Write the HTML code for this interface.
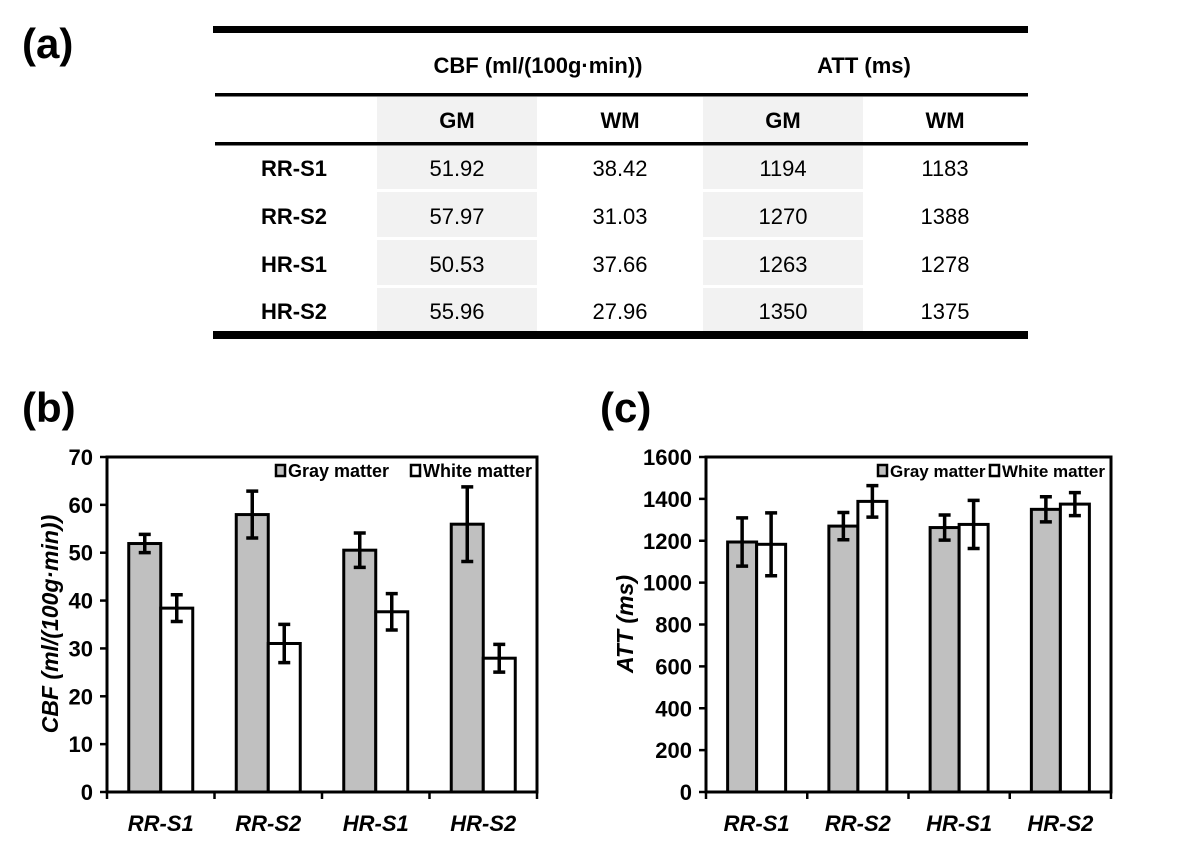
<!DOCTYPE html>
<html><head><meta charset="utf-8"><style>
body{margin:0;background:#fff;font-family:"Liberation Sans",Arial,sans-serif}
svg{display:block}
</style></head><body>
<svg id="root" width="1197" height="858" viewBox="0 0 1197 858" font-family="Liberation Sans, Arial, sans-serif">
<g>
<text x="22" y="58" font-size="42" font-weight="bold">(a)</text>
<rect x="213" y="26" width="815" height="7" fill="#000"/>
<g fill="#f2f2f2">
<rect x="377" y="97" width="160" height="45"/><rect x="703" y="97" width="160" height="45"/>
<rect x="377" y="146" width="160" height="43"/><rect x="703" y="146" width="160" height="43"/>
<rect x="377" y="192" width="160" height="45"/><rect x="703" y="192" width="160" height="45"/>
<rect x="377" y="240" width="160" height="45"/><rect x="703" y="240" width="160" height="45"/>
<rect x="377" y="288" width="160" height="43"/><rect x="703" y="288" width="160" height="43"/>
</g>
<rect x="215" y="93" width="813" height="3.5" fill="#000"/>
<rect x="215" y="142" width="813" height="3.5" fill="#000"/>
<rect x="213" y="331" width="815" height="8" fill="#000"/>
<g font-weight="bold" font-size="22" text-anchor="middle">
<text x="538" y="73">CBF (ml/(100g·min))</text>
<text x="864" y="73">ATT (ms)</text>
<text x="457" y="128">GM</text>
<text x="620" y="128">WM</text>
<text x="783" y="128">GM</text>
<text x="945" y="128">WM</text>
</g>
<g id="tbody"></g>
</g>
<text x="22" y="422" font-size="42" font-weight="bold">(b)</text>
<text x="600" y="422" font-size="42" font-weight="bold">(c)</text>
<g id="chartB"></g>
<g id="chartC"></g>
</svg>
<script>
const categories = ["RR-S1","RR-S2","HR-S1","HR-S2"];
const cbfGray = [51.92,57.97,50.53,55.96];
const cbfWhite = [38.42,31.03,37.66,27.96];
const cbfGrayErr = [1.9,4.9,3.6,7.8];
const cbfWhiteErr = [2.8,4.0,3.8,2.9];
const attGray = [1194,1270,1263,1350];
const attWhite = [1183,1388,1278,1375];
const attGrayErr = [115,65,60,60];
const attWhiteErr = [150,75,115,55];
const cbfTicks = [0,10,20,30,40,50,60,70];
const attTicks = [0,200,400,600,800,1000,1200,1400,1600];
const NS = "http://www.w3.org/2000/svg";
function mk(tag, attrs, parent, txt){const e=document.createElementNS(NS,tag);for(const k in attrs)e.setAttribute(k,attrs[k]);if(txt!==undefined)e.textContent=txt;parent.appendChild(e);return e;}

const tb=document.getElementById('tbody');
const rowY=[176,224,272,319];
categories.forEach((c,i)=>{
  const t1=mk('text',{x:294,y:rowY[i],'font-size':22,'font-weight':'bold','text-anchor':'middle'},tb,c);
  
  
  const vals=[cbfGray[i].toFixed(2),cbfWhite[i].toFixed(2),String(attGray[i]),String(attWhite[i])];
  const xs=[457,620,783,945];
  vals.forEach((v,j)=>{
    const t=mk('text',{x:xs[j],y:rowY[i],'font-size':22,'text-anchor':'middle'},tb,v);
    
    
  });
});

function chart(g,opt){
  const {L,R,T,B,max,ticks,gray,white,gErr,wErr,bw,title,legend}=opt;
  const y=v=>B-(v/max)*(B-T);
  const gw=(R-L)/categories.length;
  const x=i=>L+gw*i+gw/2;
  ticks.forEach(t=>{
    mk('line',{x1:L-7,x2:L,y1:y(t),y2:y(t),stroke:'#000','stroke-width':2.5},g);
    const tl=mk('text',{x:L-14,y:y(t)+8,'font-size':22,'font-weight':'bold','text-anchor':'end'},g,String(t));
    
    
  });
  for(let i=0;i<=categories.length;i++){
    mk('line',{x1:L+gw*i,x2:L+gw*i,y1:B,y2:B+7,stroke:'#000','stroke-width':2.5},g);
  }
  categories.forEach((c,i)=>{
    const bars=[[gray[i],gErr[i],'#c0c0c0',x(i)-bw,'bar-gray'],[white[i],wErr[i],'#fff',x(i),'bar-white']];
    bars.forEach(b=>{
      const r=mk('rect',{x:b[3],y:y(b[0]),width:bw,height:B-y(b[0]),fill:b[2],stroke:'#000','stroke-width':3},g);
      
      
      const cx=b[3]+bw/2;
      const eb=mk('path',{d:`M${cx},${y(b[0]+b[1])}V${y(b[0]-b[1])}M${cx-6},${y(b[0]+b[1])}H${cx+6}M${cx-6},${y(b[0]-b[1])}H${cx+6}`,stroke:'#000','stroke-width':3.5,fill:'none'},g);
      
      
    });
    const cl=mk('text',{x:x(i),y:B+39,'font-size':22,'font-weight':'bold','font-style':'italic','text-anchor':'middle'},g,c);
    
    
  });
  const fr=mk('rect',{x:L,y:T,width:R-L,height:B-T,fill:'none',stroke:'#000','stroke-width':3},g);
  
  
  const yt=mk('text',{transform:`translate(${opt.titleX},${opt.titleY}) rotate(-90)`,'font-size':23,'font-weight':'bold','font-style':'italic','text-anchor':'middle'},g,title);
  
  
  legend.forEach(l=>{
    const s=mk('rect',{x:l[0],y:465,width:9,height:11,fill:l[1],stroke:'#000','stroke-width':2.5},g);
    
    
    const lt=mk('text',{x:l[0]+12,y:477,'font-size':opt.lfs,'font-weight':'bold'},g,l[2]);
    
    
  });
}
chart(document.getElementById('chartB'),{L:107,R:537,T:457,B:792,max:70,ticks:cbfTicks,gray:cbfGray,white:cbfWhite,gErr:cbfGrayErr,wErr:cbfWhiteErr,bw:32,title:"CBF (ml/(100g·min))",titleX:58,titleY:624,lfs:18,legend:[[276,'#c0c0c0','Gray matter'],[411,'#fff','White matter']]});
chart(document.getElementById('chartC'),{L:706,R:1111,T:457,B:792,max:1600,ticks:attTicks,gray:attGray,white:attWhite,gErr:attGrayErr,wErr:attWhiteErr,bw:29,title:"ATT (ms)",titleX:633,titleY:624,lfs:17,legend:[[878,'#c0c0c0','Gray matter'],[990,'#fff','White matter']]});
</script>
</body></html>
